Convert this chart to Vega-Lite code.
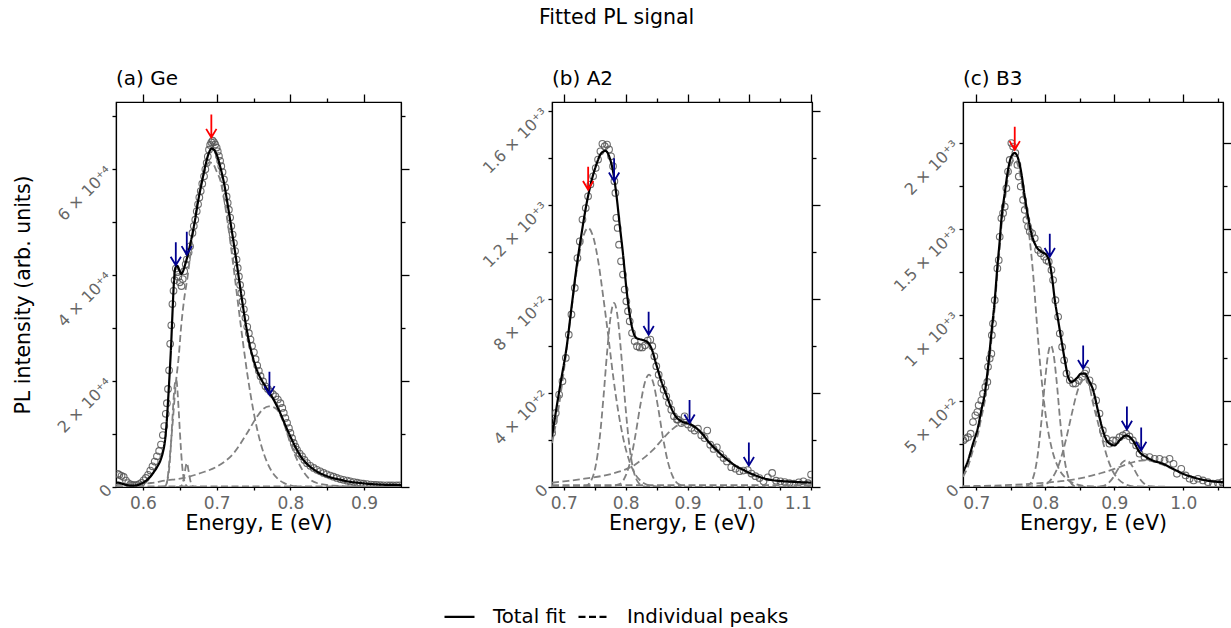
{
"$schema": "https://vega.github.io/schema/vega-lite/v6.json",
"padding": {"left": 12, "top": 8, "right": 2, "bottom": 2},
"title": {"text": "Fitted PL signal", "fontSize": 20.5, "fontWeight": "normal", "anchor": "middle", "frame": "bounds", "offset": 40, "dx": -6},
"bounds": "flush",
"spacing": 151,
"datasets": {
"a_pts": [
{"E":0.566,"I":2500},{"E":0.568,"I":2300},{"E":0.571,"I":2100},{"E":0.574,"I":1900},{"E":0.577,"I":1200},{"E":0.58,"I":750},{"E":0.583,"I":500},{"E":0.586,"I":380},{"E":0.589,"I":330},{"E":0.592,"I":380},{"E":0.595,"I":560},{"E":0.598,"I":800},{"E":0.601,"I":1250},{"E":0.604,"I":1700},{"E":0.607,"I":2300},{"E":0.61,"I":3100},{"E":0.613,"I":3900},{"E":0.616,"I":4800},{"E":0.619,"I":5800},{"E":0.622,"I":6800},{"E":0.6245,"I":8000},{"E":0.627,"I":9800},{"E":0.629,"I":11500},{"E":0.631,"I":13800},{"E":0.6325,"I":15800},{"E":0.634,"I":18500},{"E":0.6355,"I":22000},{"E":0.637,"I":27000},{"E":0.6385,"I":30500},{"E":0.64,"I":34500},{"E":0.6415,"I":37000},{"E":0.643,"I":39000},{"E":0.6446,"I":41200},{"E":0.6465,"I":40500},{"E":0.648,"I":39600},{"E":0.65,"I":38600},{"E":0.6523,"I":37900},{"E":0.654,"I":39200},{"E":0.656,"I":40700},{"E":0.658,"I":42000},{"E":0.6595,"I":42900},{"E":0.662,"I":44200},{"E":0.664,"I":45400},{"E":0.6672,"I":47900},{"E":0.669,"I":49200},{"E":0.671,"I":50400},{"E":0.673,"I":52000},{"E":0.6748,"I":53300},{"E":0.6765,"I":54600},{"E":0.6784,"I":55800},{"E":0.6805,"I":57200},{"E":0.6829,"I":58600},{"E":0.6847,"I":59900},{"E":0.6865,"I":61100},{"E":0.688,"I":62300},{"E":0.6896,"I":63600},{"E":0.6912,"I":64500},{"E":0.6928,"I":65000},{"E":0.6946,"I":65300},{"E":0.6964,"I":65000},{"E":0.698,"I":64600},{"E":0.7,"I":64000},{"E":0.7015,"I":63300},{"E":0.7031,"I":62400},{"E":0.7047,"I":61500},{"E":0.7063,"I":60500},{"E":0.708,"I":59400},{"E":0.7099,"I":58000},{"E":0.7117,"I":56500},{"E":0.7135,"I":54800},{"E":0.715,"I":53600},{"E":0.7166,"I":52300},{"E":0.7183,"I":50800},{"E":0.7199,"I":49200},{"E":0.7217,"I":47600},{"E":0.7234,"I":46000},{"E":0.725,"I":44500},{"E":0.727,"I":42900},{"E":0.7286,"I":41300},{"E":0.7302,"I":39700},{"E":0.7318,"I":38100},{"E":0.7334,"I":36600},{"E":0.735,"I":35000},{"E":0.7369,"I":33500},{"E":0.739,"I":31900},{"E":0.7415,"I":30200},{"E":0.7437,"I":29000},{"E":0.7459,"I":27800},{"E":0.748,"I":26600},{"E":0.7505,"I":25400},{"E":0.7528,"I":24100},{"E":0.755,"I":22900},{"E":0.7572,"I":21900},{"E":0.7595,"I":20900},{"E":0.763,"I":19900},{"E":0.7662,"I":19000},{"E":0.7695,"I":18500},{"E":0.773,"I":18000},{"E":0.7763,"I":17500},{"E":0.7797,"I":17100},{"E":0.783,"I":16500},{"E":0.7865,"I":15800},{"E":0.789,"I":14900},{"E":0.791,"I":14000},{"E":0.7932,"I":13000},{"E":0.7955,"I":12100},{"E":0.798,"I":11100},{"E":0.8,"I":10200},{"E":0.8023,"I":9200},{"E":0.8045,"I":8300},{"E":0.8068,"I":7600},{"E":0.809,"I":7000},{"E":0.8125,"I":6300},{"E":0.8158,"I":5800},{"E":0.819,"I":5100},{"E":0.8226,"I":4500},{"E":0.827,"I":4000},{"E":0.8316,"I":3600},{"E":0.836,"I":3250},{"E":0.8405,"I":2950},{"E":0.845,"I":2650},{"E":0.8495,"I":2400},{"E":0.8541,"I":2150},{"E":0.8585,"I":1950},{"E":0.863,"I":1700},{"E":0.8676,"I":1500},{"E":0.872,"I":1350},{"E":0.877,"I":1200},{"E":0.8811,"I":1060},{"E":0.886,"I":930},{"E":0.8905,"I":820},{"E":0.895,"I":700},{"E":0.8991,"I":620},{"E":0.904,"I":540},{"E":0.909,"I":470},{"E":0.913,"I":420},{"E":0.917,"I":380},{"E":0.922,"I":350},{"E":0.926,"I":330},{"E":0.931,"I":310},{"E":0.935,"I":300},{"E":0.939,"I":300},{"E":0.944,"I":290},{"E":0.948,"I":290}
],
"a_tot": [
{"t":"Total fit","E":0.564,"I":850},{"t":"Total fit","E":0.568,"I":780},{"t":"Total fit","E":0.572,"I":620},{"t":"Total fit","E":0.576,"I":430},{"t":"Total fit","E":0.58,"I":310},{"t":"Total fit","E":0.585,"I":250},{"t":"Total fit","E":0.59,"I":290},{"t":"Total fit","E":0.595,"I":480},{"t":"Total fit","E":0.6,"I":800},{"t":"Total fit","E":0.605,"I":1250},{"t":"Total fit","E":0.61,"I":1950},{"t":"Total fit","E":0.615,"I":2850},{"t":"Total fit","E":0.62,"I":3950},{"t":"Total fit","E":0.624,"I":5100},{"t":"Total fit","E":0.627,"I":6500},{"t":"Total fit","E":0.63,"I":8800},{"t":"Total fit","E":0.632,"I":11800},{"t":"Total fit","E":0.634,"I":16000},{"t":"Total fit","E":0.636,"I":20800},{"t":"Total fit","E":0.638,"I":26000},{"t":"Total fit","E":0.64,"I":32500},{"t":"Total fit","E":0.642,"I":38500},{"t":"Total fit","E":0.644,"I":41300},{"t":"Total fit","E":0.6465,"I":41700},{"t":"Total fit","E":0.649,"I":41000},{"t":"Total fit","E":0.652,"I":40200},{"t":"Total fit","E":0.655,"I":40900},{"t":"Total fit","E":0.658,"I":42300},{"t":"Total fit","E":0.6604,"I":43500},{"t":"Total fit","E":0.665,"I":46300},{"t":"Total fit","E":0.67,"I":49800},{"t":"Total fit","E":0.675,"I":54000},{"t":"Total fit","E":0.68,"I":57500},{"t":"Total fit","E":0.685,"I":60800},{"t":"Total fit","E":0.69,"I":63200},{"t":"Total fit","E":0.693,"I":63800},{"t":"Total fit","E":0.697,"I":63500},{"t":"Total fit","E":0.701,"I":62300},{"t":"Total fit","E":0.705,"I":60300},{"t":"Total fit","E":0.71,"I":57300},{"t":"Total fit","E":0.715,"I":53200},{"t":"Total fit","E":0.72,"I":48800},{"t":"Total fit","E":0.725,"I":44300},{"t":"Total fit","E":0.73,"I":39500},{"t":"Total fit","E":0.735,"I":34700},{"t":"Total fit","E":0.74,"I":30300},{"t":"Total fit","E":0.745,"I":26700},{"t":"Total fit","E":0.75,"I":24000},{"t":"Total fit","E":0.755,"I":21900},{"t":"Total fit","E":0.76,"I":20400},{"t":"Total fit","E":0.766,"I":19000},{"t":"Total fit","E":0.772,"I":17700},{"t":"Total fit","E":0.779,"I":16000},{"t":"Total fit","E":0.786,"I":14000},{"t":"Total fit","E":0.793,"I":11700},{"t":"Total fit","E":0.8,"I":9500},{"t":"Total fit","E":0.807,"I":7500},{"t":"Total fit","E":0.814,"I":5800},{"t":"Total fit","E":0.82,"I":4700},{"t":"Total fit","E":0.827,"I":3800},{"t":"Total fit","E":0.835,"I":3000},{"t":"Total fit","E":0.845,"I":2300},{"t":"Total fit","E":0.855,"I":1800},{"t":"Total fit","E":0.867,"I":1400},{"t":"Total fit","E":0.88,"I":1000},{"t":"Total fit","E":0.895,"I":750},{"t":"Total fit","E":0.91,"I":550},{"t":"Total fit","E":0.925,"I":430},{"t":"Total fit","E":0.95,"I":370}
],
"a_pk": [
{"s":"p1","t":"Individual peaks","E":0.62,"I":0},{"s":"p1","t":"Individual peaks","E":0.627,"I":50},{"s":"p1","t":"Individual peaks","E":0.63,"I":200},{"s":"p1","t":"Individual peaks","E":0.632,"I":650},{"s":"p1","t":"Individual peaks","E":0.634,"I":1760},{"s":"p1","t":"Individual peaks","E":0.636,"I":4000},{"s":"p1","t":"Individual peaks","E":0.638,"I":7900},{"s":"p1","t":"Individual peaks","E":0.64,"I":12800},{"s":"p1","t":"Individual peaks","E":0.642,"I":17480},{"s":"p1","t":"Individual peaks","E":0.6435,"I":19700},{"s":"p1","t":"Individual peaks","E":0.6446,"I":20250},{"s":"p1","t":"Individual peaks","E":0.6458,"I":19900},{"s":"p1","t":"Individual peaks","E":0.647,"I":17870},{"s":"p1","t":"Individual peaks","E":0.6485,"I":14500},{"s":"p1","t":"Individual peaks","E":0.65,"I":10750},{"s":"p1","t":"Individual peaks","E":0.6515,"I":7300},{"s":"p1","t":"Individual peaks","E":0.653,"I":4380},{"s":"p1","t":"Individual peaks","E":0.6545,"I":2400},{"s":"p1","t":"Individual peaks","E":0.656,"I":1210},{"s":"p1","t":"Individual peaks","E":0.658,"I":500},{"s":"p1","t":"Individual peaks","E":0.66,"I":120},{"s":"p1","t":"Individual peaks","E":0.664,"I":10},{"s":"p1","t":"Individual peaks","E":0.68,"I":0},
{"s":"p2","t":"Individual peaks","E":0.645,"I":0},{"s":"p2","t":"Individual peaks","E":0.65,"I":30},{"s":"p2","t":"Individual peaks","E":0.653,"I":400},{"s":"p2","t":"Individual peaks","E":0.655,"I":1400},{"s":"p2","t":"Individual peaks","E":0.657,"I":3000},{"s":"p2","t":"Individual peaks","E":0.6595,"I":4530},{"s":"p2","t":"Individual peaks","E":0.662,"I":3000},{"s":"p2","t":"Individual peaks","E":0.664,"I":1400},{"s":"p2","t":"Individual peaks","E":0.666,"I":450},{"s":"p2","t":"Individual peaks","E":0.669,"I":30},{"s":"p2","t":"Individual peaks","E":0.675,"I":0},
{"s":"p3","t":"Individual peaks","E":0.628,"I":0},{"s":"p3","t":"Individual peaks","E":0.631,"I":300},{"s":"p3","t":"Individual peaks","E":0.633,"I":1200},{"s":"p3","t":"Individual peaks","E":0.636,"I":5000},{"s":"p3","t":"Individual peaks","E":0.64,"I":11500},{"s":"p3","t":"Individual peaks","E":0.6446,"I":19500},{"s":"p3","t":"Individual peaks","E":0.6485,"I":24500},{"s":"p3","t":"Individual peaks","E":0.652,"I":30500},{"s":"p3","t":"Individual peaks","E":0.656,"I":35500},{"s":"p3","t":"Individual peaks","E":0.6604,"I":39500},{"s":"p3","t":"Individual peaks","E":0.665,"I":44500},{"s":"p3","t":"Individual peaks","E":0.67,"I":50000},{"s":"p3","t":"Individual peaks","E":0.675,"I":54500},{"s":"p3","t":"Individual peaks","E":0.68,"I":57800},{"s":"p3","t":"Individual peaks","E":0.685,"I":60000},{"s":"p3","t":"Individual peaks","E":0.69,"I":61200},{"s":"p3","t":"Individual peaks","E":0.694,"I":61100},{"s":"p3","t":"Individual peaks","E":0.7,"I":59500},{"s":"p3","t":"Individual peaks","E":0.705,"I":57800},{"s":"p3","t":"Individual peaks","E":0.71,"I":54300},{"s":"p3","t":"Individual peaks","E":0.715,"I":49800},{"s":"p3","t":"Individual peaks","E":0.72,"I":44650},{"s":"p3","t":"Individual peaks","E":0.725,"I":39100},{"s":"p3","t":"Individual peaks","E":0.7324,"I":30800},{"s":"p3","t":"Individual peaks","E":0.737,"I":25900},{"s":"p3","t":"Individual peaks","E":0.7415,"I":21400},{"s":"p3","t":"Individual peaks","E":0.746,"I":17400},{"s":"p3","t":"Individual peaks","E":0.7504,"I":13940},{"s":"p3","t":"Individual peaks","E":0.755,"I":10850},{"s":"p3","t":"Individual peaks","E":0.76,"I":8070},{"s":"p3","t":"Individual peaks","E":0.7685,"I":4640},{"s":"p3","t":"Individual peaks","E":0.775,"I":2890},{"s":"p3","t":"Individual peaks","E":0.782,"I":1670},{"s":"p3","t":"Individual peaks","E":0.791,"I":770},{"s":"p3","t":"Individual peaks","E":0.8,"I":330},{"s":"p3","t":"Individual peaks","E":0.812,"I":80},{"s":"p3","t":"Individual peaks","E":0.83,"I":0},
{"s":"p4","t":"Individual peaks","E":0.5635,"I":420},{"s":"p4","t":"Individual peaks","E":0.59,"I":600},{"s":"p4","t":"Individual peaks","E":0.6108,"I":755},{"s":"p4","t":"Individual peaks","E":0.63,"I":1200},{"s":"p4","t":"Individual peaks","E":0.6558,"I":1700},{"s":"p4","t":"Individual peaks","E":0.6784,"I":2640},{"s":"p4","t":"Individual peaks","E":0.7009,"I":3890},{"s":"p4","t":"Individual peaks","E":0.7234,"I":6420},{"s":"p4","t":"Individual peaks","E":0.7414,"I":10190},{"s":"p4","t":"Individual peaks","E":0.755,"I":13320},{"s":"p4","t":"Individual peaks","E":0.763,"I":14700},{"s":"p4","t":"Individual peaks","E":0.7707,"I":15210},{"s":"p4","t":"Individual peaks","E":0.777,"I":15050},{"s":"p4","t":"Individual peaks","E":0.782,"I":14590},{"s":"p4","t":"Individual peaks","E":0.7909,"I":12080},{"s":"p4","t":"Individual peaks","E":0.8,"I":8300},{"s":"p4","t":"Individual peaks","E":0.809,"I":5150},{"s":"p4","t":"Individual peaks","E":0.8225,"I":2000},{"s":"p4","t":"Individual peaks","E":0.836,"I":755},{"s":"p4","t":"Individual peaks","E":0.8585,"I":250},{"s":"p4","t":"Individual peaks","E":0.9,"I":60},{"s":"p4","t":"Individual peaks","E":0.95,"I":20},
{"s":"bg","t":"Individual peaks","E":0.5635,"I":120},{"s":"bg","t":"Individual peaks","E":0.95,"I":120}
],
"a_arr": [
{"E":0.6928,"I":65900,"k":"main"},{"E":0.6446,"I":41800,"k":"sat"},{"E":0.6595,"I":43800,"k":"sat"},{"E":0.7716,"I":17400,"k":"sat"}
],
"b_pts": [
{"E":0.6812,"I":230},{"E":0.6839,"I":280},{"E":0.6871,"I":315},{"E":0.6925,"I":393},{"E":0.6979,"I":450},{"E":0.7033,"I":549},{"E":0.7081,"I":648},{"E":0.7124,"I":734},{"E":0.7178,"I":847},{"E":0.7221,"I":974},{"E":0.7259,"I":1045},{"E":0.7302,"I":1138},{"E":0.7355,"I":1187},{"E":0.7393,"I":1237},{"E":0.743,"I":1287},{"E":0.7474,"I":1322},{"E":0.7516,"I":1357},{"E":0.7554,"I":1393},{"E":0.7592,"I":1428},{"E":0.7624,"I":1460},{"E":0.7662,"I":1450},{"E":0.7699,"I":1457},{"E":0.7732,"I":1436},{"E":0.7764,"I":1407},{"E":0.7796,"I":1365},{"E":0.7818,"I":1301},{"E":0.7834,"I":1251},{"E":0.785,"I":1145},{"E":0.7871,"I":1102},{"E":0.7893,"I":1031},{"E":0.7925,"I":960},{"E":0.7957,"I":904},{"E":0.7984,"I":840},{"E":0.8011,"I":790},{"E":0.8038,"I":748},{"E":0.8065,"I":705},{"E":0.8103,"I":655},{"E":0.8145,"I":620},{"E":0.8183,"I":599},{"E":0.8226,"I":594},{"E":0.8269,"I":594},{"E":0.8312,"I":603},{"E":0.8355,"I":623},{"E":0.8398,"I":627},{"E":0.843,"I":599},{"E":0.8463,"I":556},{"E":0.8495,"I":514},{"E":0.8533,"I":478},{"E":0.8576,"I":443},{"E":0.8613,"I":414},{"E":0.8656,"I":386},{"E":0.8699,"I":357},{"E":0.8737,"I":329},{"E":0.878,"I":301},{"E":0.8828,"I":287},{"E":0.8845,"I":287},{"E":0.8899,"I":272},{"E":0.8952,"I":301},{"E":0.9006,"I":266},{"E":0.906,"I":251},{"E":0.9113,"I":240},{"E":0.9167,"I":248},{"E":0.9221,"I":220},{"E":0.9275,"I":208},{"E":0.9318,"I":240},{"E":0.9366,"I":180},{"E":0.942,"I":162},{"E":0.9473,"I":169},{"E":0.9527,"I":140},{"E":0.9581,"I":123},{"E":0.9635,"I":109},{"E":0.9705,"I":84},{"E":0.9775,"I":78},{"E":0.9839,"I":67},{"E":0.9903,"I":70},{"E":0.9973,"I":72},{"E":1.0032,"I":57},{"E":1.0097,"I":46},{"E":1.0161,"I":38},{"E":1.0226,"I":24},{"E":1.0296,"I":41},{"E":1.0366,"I":60},{"E":1.043,"I":27},{"E":1.05,"I":24},{"E":1.057,"I":21},{"E":1.0645,"I":16},{"E":1.072,"I":14},{"E":1.0796,"I":20},{"E":1.0871,"I":24},{"E":1.0946,"I":16},{"E":1.0995,"I":53}
],
"b_tot": [
{"t":"Total fit","E":0.681,"I":215},{"t":"Total fit","E":0.6882,"I":336},{"t":"Total fit","E":0.6963,"I":464},{"t":"Total fit","E":0.7044,"I":591},{"t":"Total fit","E":0.7124,"I":762},{"t":"Total fit","E":0.7205,"I":932},{"t":"Total fit","E":0.7285,"I":1074},{"t":"Total fit","E":0.7366,"I":1202},{"t":"Total fit","E":0.7447,"I":1301},{"t":"Total fit","E":0.7527,"I":1372},{"t":"Total fit","E":0.7608,"I":1421},{"t":"Total fit","E":0.7677,"I":1430},{"t":"Total fit","E":0.7742,"I":1400},{"t":"Total fit","E":0.7796,"I":1343},{"t":"Total fit","E":0.785,"I":1244},{"t":"Total fit","E":0.7903,"I":1117},{"t":"Total fit","E":0.7958,"I":989},{"t":"Total fit","E":0.8011,"I":847},{"t":"Total fit","E":0.8065,"I":734},{"t":"Total fit","E":0.8119,"I":663},{"t":"Total fit","E":0.8173,"I":634},{"t":"Total fit","E":0.8253,"I":627},{"t":"Total fit","E":0.8334,"I":620},{"t":"Total fit","E":0.8415,"I":591},{"t":"Total fit","E":0.8495,"I":521},{"t":"Total fit","E":0.8576,"I":450},{"t":"Total fit","E":0.8656,"I":393},{"t":"Total fit","E":0.8737,"I":336},{"t":"Total fit","E":0.8818,"I":297},{"t":"Total fit","E":0.8898,"I":280},{"t":"Total fit","E":0.9032,"I":268},{"t":"Total fit","E":0.914,"I":251},{"t":"Total fit","E":0.9248,"I":223},{"t":"Total fit","E":0.9355,"I":187},{"t":"Total fit","E":0.9463,"I":159},{"t":"Total fit","E":0.9571,"I":131},{"t":"Total fit","E":0.9677,"I":109},{"t":"Total fit","E":0.9785,"I":88},{"t":"Total fit","E":0.9894,"I":74},{"t":"Total fit","E":1.0,"I":60},{"t":"Total fit","E":1.0108,"I":48},{"t":"Total fit","E":1.0216,"I":38},{"t":"Total fit","E":1.0323,"I":31},{"t":"Total fit","E":1.0431,"I":27},{"t":"Total fit","E":1.0645,"I":23},{"t":"Total fit","E":1.0861,"I":20},{"t":"Total fit","E":1.1,"I":19}
],
"b_pk": [
{"s":"A","t":"Individual peaks","E":0.681,"I":187},{"s":"A","t":"Individual peaks","E":0.69,"I":309},{"s":"A","t":"Individual peaks","E":0.7,"I":491},{"s":"A","t":"Individual peaks","E":0.71,"I":703},{"s":"A","t":"Individual peaks","E":0.72,"I":906},{"s":"A","t":"Individual peaks","E":0.73,"I":1052},{"s":"A","t":"Individual peaks","E":0.7394,"I":1102},{"s":"A","t":"Individual peaks","E":0.748,"I":1060},{"s":"A","t":"Individual peaks","E":0.756,"I":955},{"s":"A","t":"Individual peaks","E":0.764,"I":804},{"s":"A","t":"Individual peaks","E":0.772,"I":640},{"s":"A","t":"Individual peaks","E":0.78,"I":467},{"s":"A","t":"Individual peaks","E":0.788,"I":322},{"s":"A","t":"Individual peaks","E":0.796,"I":208},{"s":"A","t":"Individual peaks","E":0.806,"I":110},{"s":"A","t":"Individual peaks","E":0.816,"I":52},{"s":"A","t":"Individual peaks","E":0.826,"I":22},{"s":"A","t":"Individual peaks","E":0.84,"I":6},{"s":"A","t":"Individual peaks","E":0.86,"I":1},{"s":"A","t":"Individual peaks","E":1.1,"I":0},
{"s":"B","t":"Individual peaks","E":0.681,"I":0},{"s":"B","t":"Individual peaks","E":0.735,"I":4},{"s":"B","t":"Individual peaks","E":0.745,"I":31},{"s":"B","t":"Individual peaks","E":0.752,"I":96},{"s":"B","t":"Individual peaks","E":0.758,"I":207},{"s":"B","t":"Individual peaks","E":0.764,"I":377},{"s":"B","t":"Individual peaks","E":0.77,"I":573},{"s":"B","t":"Individual peaks","E":0.776,"I":731},{"s":"B","t":"Individual peaks","E":0.7813,"I":783},{"s":"B","t":"Individual peaks","E":0.787,"I":723},{"s":"B","t":"Individual peaks","E":0.793,"I":560},{"s":"B","t":"Individual peaks","E":0.799,"I":364},{"s":"B","t":"Individual peaks","E":0.805,"I":198},{"s":"B","t":"Individual peaks","E":0.811,"I":90},{"s":"B","t":"Individual peaks","E":0.818,"I":29},{"s":"B","t":"Individual peaks","E":0.828,"I":4},{"s":"B","t":"Individual peaks","E":0.84,"I":0},{"s":"B","t":"Individual peaks","E":1.1,"I":0},
{"s":"C","t":"Individual peaks","E":0.681,"I":0},{"s":"C","t":"Individual peaks","E":0.77,"I":1},{"s":"C","t":"Individual peaks","E":0.79,"I":12},{"s":"C","t":"Individual peaks","E":0.8,"I":48},{"s":"C","t":"Individual peaks","E":0.808,"I":115},{"s":"C","t":"Individual peaks","E":0.816,"I":224},{"s":"C","t":"Individual peaks","E":0.824,"I":353},{"s":"C","t":"Individual peaks","E":0.831,"I":445},{"s":"C","t":"Individual peaks","E":0.8377,"I":478},{"s":"C","t":"Individual peaks","E":0.845,"I":439},{"s":"C","t":"Individual peaks","E":0.852,"I":344},{"s":"C","t":"Individual peaks","E":0.86,"I":214},{"s":"C","t":"Individual peaks","E":0.868,"I":109},{"s":"C","t":"Individual peaks","E":0.876,"I":45},{"s":"C","t":"Individual peaks","E":0.886,"I":11},{"s":"C","t":"Individual peaks","E":0.9,"I":1},{"s":"C","t":"Individual peaks","E":1.1,"I":0},
{"s":"D","t":"Individual peaks","E":0.681,"I":18},{"s":"D","t":"Individual peaks","E":0.7,"I":24},{"s":"D","t":"Individual peaks","E":0.72,"I":30},{"s":"D","t":"Individual peaks","E":0.74,"I":38},{"s":"D","t":"Individual peaks","E":0.76,"I":46},{"s":"D","t":"Individual peaks","E":0.78,"I":58},{"s":"D","t":"Individual peaks","E":0.8,"I":75},{"s":"D","t":"Individual peaks","E":0.815,"I":95},{"s":"D","t":"Individual peaks","E":0.83,"I":125},{"s":"D","t":"Individual peaks","E":0.845,"I":160},{"s":"D","t":"Individual peaks","E":0.86,"I":205},{"s":"D","t":"Individual peaks","E":0.875,"I":245},{"s":"D","t":"Individual peaks","E":0.887,"I":265},{"s":"D","t":"Individual peaks","E":0.9,"I":268},{"s":"D","t":"Individual peaks","E":0.91,"I":260},{"s":"D","t":"Individual peaks","E":0.92,"I":235},{"s":"D","t":"Individual peaks","E":0.935,"I":190},{"s":"D","t":"Individual peaks","E":0.95,"I":150},{"s":"D","t":"Individual peaks","E":0.97,"I":105},{"s":"D","t":"Individual peaks","E":0.99,"I":70},{"s":"D","t":"Individual peaks","E":1.01,"I":47},{"s":"D","t":"Individual peaks","E":1.03,"I":33},{"s":"D","t":"Individual peaks","E":1.05,"I":25},{"s":"D","t":"Individual peaks","E":1.07,"I":20},{"s":"D","t":"Individual peaks","E":1.1,"I":16},
{"s":"bg","t":"Individual peaks","E":0.681,"I":8},{"s":"bg","t":"Individual peaks","E":1.1,"I":8}
],
"b_arr": [
{"E":0.7394,"I":1265,"k":"main"},{"E":0.7813,"I":1301,"k":"sat"},{"E":0.8371,"I":648,"k":"sat"},{"E":0.9032,"I":272,"k":"sat"},{"E":0.999,"I":91,"k":"sat"}
],
"c_pts": [
{"E":0.6812,"I":271},{"E":0.6841,"I":281},{"E":0.688,"I":290},{"E":0.6918,"I":310},{"E":0.6952,"I":378},{"E":0.6986,"I":417},{"E":0.7015,"I":436},{"E":0.7034,"I":475},{"E":0.7073,"I":504},{"E":0.7097,"I":543},{"E":0.7131,"I":582},{"E":0.716,"I":611},{"E":0.717,"I":699},{"E":0.7194,"I":747},{"E":0.7218,"I":776},{"E":0.7225,"I":883},{"E":0.7242,"I":951},{"E":0.7267,"I":1087},{"E":0.7305,"I":1272},{"E":0.7325,"I":1320},{"E":0.7339,"I":1456},{"E":0.7363,"I":1563},{"E":0.7388,"I":1593},{"E":0.7412,"I":1631},{"E":0.7436,"I":1738},{"E":0.746,"I":1835},{"E":0.7484,"I":1903},{"E":0.7508,"I":2001},{"E":0.7533,"I":1981},{"E":0.7566,"I":1943},{"E":0.7596,"I":1874},{"E":0.7615,"I":1806},{"E":0.7644,"I":1748},{"E":0.7678,"I":1670},{"E":0.7702,"I":1612},{"E":0.7726,"I":1554},{"E":0.775,"I":1515},{"E":0.7775,"I":1486},{"E":0.7809,"I":1476},{"E":0.7847,"I":1447},{"E":0.7896,"I":1379},{"E":0.7934,"I":1360},{"E":0.7983,"I":1340},{"E":0.8016,"I":1320},{"E":0.805,"I":1311},{"E":0.8089,"I":1262},{"E":0.8113,"I":1204},{"E":0.8147,"I":1087},{"E":0.8186,"I":990},{"E":0.821,"I":893},{"E":0.8244,"I":815},{"E":0.8273,"I":737},{"E":0.8307,"I":660},{"E":0.8355,"I":621},{"E":0.8403,"I":602},{"E":0.8437,"I":602},{"E":0.8486,"I":621},{"E":0.8534,"I":640},{"E":0.8573,"I":660},{"E":0.8592,"I":679},{"E":0.8641,"I":621},{"E":0.8689,"I":582},{"E":0.8737,"I":504},{"E":0.8786,"I":427},{"E":0.8834,"I":329},{"E":0.8882,"I":281},{"E":0.893,"I":252},{"E":0.8979,"I":271},{"E":0.9027,"I":271},{"E":0.9076,"I":290},{"E":0.9124,"I":300},{"E":0.9172,"I":310},{"E":0.922,"I":294},{"E":0.9269,"I":271},{"E":0.9317,"I":242},{"E":0.9366,"I":194},{"E":0.9438,"I":174},{"E":0.9511,"I":174},{"E":0.9584,"I":164},{"E":0.9656,"I":164},{"E":0.9729,"I":155},{"E":0.9801,"I":164},{"E":0.9859,"I":135},{"E":0.9908,"I":77},{"E":0.9971,"I":106},{"E":1.0034,"I":67},{"E":1.0092,"I":48},{"E":1.015,"I":38},{"E":1.0213,"I":48},{"E":1.0285,"I":38},{"E":1.0358,"I":28},{"E":1.0431,"I":19},{"E":1.0503,"I":22},{"E":1.0566,"I":28}
],
"c_tot": [
{"t":"Total fit","E":0.6807,"I":86},{"t":"Total fit","E":0.688,"I":154},{"t":"Total fit","E":0.6952,"I":252},{"t":"Total fit","E":0.7025,"I":349},{"t":"Total fit","E":0.7073,"I":446},{"t":"Total fit","E":0.7122,"I":543},{"t":"Total fit","E":0.717,"I":698},{"t":"Total fit","E":0.7218,"I":893},{"t":"Total fit","E":0.7267,"I":1087},{"t":"Total fit","E":0.7305,"I":1281},{"t":"Total fit","E":0.734,"I":1437},{"t":"Total fit","E":0.7363,"I":1554},{"t":"Total fit","E":0.7412,"I":1709},{"t":"Total fit","E":0.746,"I":1845},{"t":"Total fit","E":0.7508,"I":1923},{"t":"Total fit","E":0.7557,"I":1943},{"t":"Total fit","E":0.7605,"I":1913},{"t":"Total fit","E":0.7653,"I":1826},{"t":"Total fit","E":0.7702,"I":1690},{"t":"Total fit","E":0.775,"I":1573},{"t":"Total fit","E":0.7798,"I":1476},{"t":"Total fit","E":0.7871,"I":1398},{"t":"Total fit","E":0.7943,"I":1369},{"t":"Total fit","E":0.8016,"I":1350},{"t":"Total fit","E":0.8065,"I":1301},{"t":"Total fit","E":0.8103,"I":1204},{"t":"Total fit","E":0.8138,"I":1087},{"t":"Total fit","E":0.8186,"I":971},{"t":"Total fit","E":0.8234,"I":854},{"t":"Total fit","E":0.8283,"I":738},{"t":"Total fit","E":0.8331,"I":640},{"t":"Total fit","E":0.8379,"I":611},{"t":"Total fit","E":0.8451,"I":631},{"t":"Total fit","E":0.8524,"I":660},{"t":"Total fit","E":0.8573,"I":660},{"t":"Total fit","E":0.8631,"I":621},{"t":"Total fit","E":0.8694,"I":563},{"t":"Total fit","E":0.8762,"I":446},{"t":"Total fit","E":0.8835,"I":329},{"t":"Total fit","E":0.8907,"I":261},{"t":"Total fit","E":0.9003,"I":242},{"t":"Total fit","E":0.9075,"I":271},{"t":"Total fit","E":0.9173,"I":300},{"t":"Total fit","E":0.927,"I":271},{"t":"Total fit","E":0.9366,"I":203},{"t":"Total fit","E":0.9463,"I":174},{"t":"Total fit","E":0.956,"I":154},{"t":"Total fit","E":0.9705,"I":135},{"t":"Total fit","E":0.985,"I":106},{"t":"Total fit","E":0.9996,"I":77},{"t":"Total fit","E":1.0141,"I":57},{"t":"Total fit","E":1.0334,"I":38},{"t":"Total fit","E":1.0576,"I":28}
],
"c_pk": [
{"s":"m","t":"Individual peaks","E":0.6807,"I":60},{"s":"m","t":"Individual peaks","E":0.688,"I":120},{"s":"m","t":"Individual peaks","E":0.6952,"I":215},{"s":"m","t":"Individual peaks","E":0.7025,"I":310},{"s":"m","t":"Individual peaks","E":0.7073,"I":405},{"s":"m","t":"Individual peaks","E":0.7122,"I":500},{"s":"m","t":"Individual peaks","E":0.717,"I":655},{"s":"m","t":"Individual peaks","E":0.7218,"I":850},{"s":"m","t":"Individual peaks","E":0.7267,"I":1045},{"s":"m","t":"Individual peaks","E":0.7305,"I":1240},{"s":"m","t":"Individual peaks","E":0.734,"I":1395},{"s":"m","t":"Individual peaks","E":0.7363,"I":1510},{"s":"m","t":"Individual peaks","E":0.7412,"I":1665},{"s":"m","t":"Individual peaks","E":0.746,"I":1800},{"s":"m","t":"Individual peaks","E":0.7508,"I":1880},{"s":"m","t":"Individual peaks","E":0.7557,"I":1905},{"s":"m","t":"Individual peaks","E":0.7605,"I":1870},{"s":"m","t":"Individual peaks","E":0.7653,"I":1780},{"s":"m","t":"Individual peaks","E":0.7702,"I":1640},{"s":"m","t":"Individual peaks","E":0.7775,"I":1437},{"s":"m","t":"Individual peaks","E":0.7823,"I":1243},{"s":"m","t":"Individual peaks","E":0.7871,"I":990},{"s":"m","t":"Individual peaks","E":0.792,"I":738},{"s":"m","t":"Individual peaks","E":0.7968,"I":543},{"s":"m","t":"Individual peaks","E":0.8016,"I":388},{"s":"m","t":"Individual peaks","E":0.8089,"I":232},{"s":"m","t":"Individual peaks","E":0.8186,"I":115},{"s":"m","t":"Individual peaks","E":0.8283,"I":57},{"s":"m","t":"Individual peaks","E":0.8428,"I":19},{"s":"m","t":"Individual peaks","E":0.86,"I":5},{"s":"m","t":"Individual peaks","E":0.9,"I":1},{"s":"m","t":"Individual peaks","E":1.058,"I":0},
{"s":"q2","t":"Individual peaks","E":0.6807,"I":0},{"s":"q2","t":"Individual peaks","E":0.77,"I":2},{"s":"q2","t":"Individual peaks","E":0.775,"I":9},{"s":"q2","t":"Individual peaks","E":0.782,"I":50},{"s":"q2","t":"Individual peaks","E":0.788,"I":158},{"s":"q2","t":"Individual peaks","E":0.794,"I":367},{"s":"q2","t":"Individual peaks","E":0.8,"I":633},{"s":"q2","t":"Individual peaks","E":0.804,"I":772},{"s":"q2","t":"Individual peaks","E":0.808,"I":825},{"s":"q2","t":"Individual peaks","E":0.812,"I":772},{"s":"q2","t":"Individual peaks","E":0.816,"I":633},{"s":"q2","t":"Individual peaks","E":0.822,"I":367},{"s":"q2","t":"Individual peaks","E":0.828,"I":158},{"s":"q2","t":"Individual peaks","E":0.834,"I":50},{"s":"q2","t":"Individual peaks","E":0.841,"I":9},{"s":"q2","t":"Individual peaks","E":0.85,"I":1},{"s":"q2","t":"Individual peaks","E":1.058,"I":0},
{"s":"q3","t":"Individual peaks","E":0.6807,"I":0},{"s":"q3","t":"Individual peaks","E":0.78,"I":3},{"s":"q3","t":"Individual peaks","E":0.8,"I":16},{"s":"q3","t":"Individual peaks","E":0.81,"I":52},{"s":"q3","t":"Individual peaks","E":0.82,"I":134},{"s":"q3","t":"Individual peaks","E":0.83,"I":276},{"s":"q3","t":"Individual peaks","E":0.838,"I":418},{"s":"q3","t":"Individual peaks","E":0.845,"I":535},{"s":"q3","t":"Individual peaks","E":0.851,"I":605},{"s":"q3","t":"Individual peaks","E":0.857,"I":630},{"s":"q3","t":"Individual peaks","E":0.863,"I":600},{"s":"q3","t":"Individual peaks","E":0.869,"I":490},{"s":"q3","t":"Individual peaks","E":0.876,"I":380},{"s":"q3","t":"Individual peaks","E":0.883,"I":270},{"s":"q3","t":"Individual peaks","E":0.89,"I":170},{"s":"q3","t":"Individual peaks","E":0.898,"I":90},{"s":"q3","t":"Individual peaks","E":0.906,"I":45},{"s":"q3","t":"Individual peaks","E":0.915,"I":18},{"s":"q3","t":"Individual peaks","E":0.93,"I":3},{"s":"q3","t":"Individual peaks","E":1.058,"I":0},
{"s":"q4","t":"Individual peaks","E":0.6807,"I":0},{"s":"q4","t":"Individual peaks","E":0.87,"I":1},{"s":"q4","t":"Individual peaks","E":0.88,"I":3},{"s":"q4","t":"Individual peaks","E":0.89,"I":18},{"s":"q4","t":"Individual peaks","E":0.898,"I":53},{"s":"q4","t":"Individual peaks","E":0.905,"I":101},{"s":"q4","t":"Individual peaks","E":0.911,"I":140},{"s":"q4","t":"Individual peaks","E":0.917,"I":155},{"s":"q4","t":"Individual peaks","E":0.923,"I":140},{"s":"q4","t":"Individual peaks","E":0.929,"I":101},{"s":"q4","t":"Individual peaks","E":0.936,"I":53},{"s":"q4","t":"Individual peaks","E":0.944,"I":18},{"s":"q4","t":"Individual peaks","E":0.954,"I":3},{"s":"q4","t":"Individual peaks","E":0.97,"I":0},{"s":"q4","t":"Individual peaks","E":1.058,"I":0},
{"s":"q5","t":"Individual peaks","E":0.6807,"I":5},{"s":"q5","t":"Individual peaks","E":0.75,"I":12},{"s":"q5","t":"Individual peaks","E":0.8,"I":25},{"s":"q5","t":"Individual peaks","E":0.85,"I":50},{"s":"q5","t":"Individual peaks","E":0.88,"I":80},{"s":"q5","t":"Individual peaks","E":0.9,"I":105},{"s":"q5","t":"Individual peaks","E":0.92,"I":135},{"s":"q5","t":"Individual peaks","E":0.935,"I":152},{"s":"q5","t":"Individual peaks","E":0.944,"I":155},{"s":"q5","t":"Individual peaks","E":0.955,"I":150},{"s":"q5","t":"Individual peaks","E":0.97,"I":130},{"s":"q5","t":"Individual peaks","E":0.985,"I":103},{"s":"q5","t":"Individual peaks","E":1.0,"I":75},{"s":"q5","t":"Individual peaks","E":1.015,"I":55},{"s":"q5","t":"Individual peaks","E":1.03,"I":40},{"s":"q5","t":"Individual peaks","E":1.045,"I":30},{"s":"q5","t":"Individual peaks","E":1.058,"I":24}
],
"c_arr": [
{"E":0.7557,"I":1962,"k":"main"},{"E":0.8065,"I":1340,"k":"sat"},{"E":0.8549,"I":689,"k":"sat"},{"E":0.9183,"I":335,"k":"sat"},{"E":0.939,"I":213,"k":"sat"}
]
},
"hconcat": [
{
"width": 285, "height": 385,
"title": {"text": "(a) Ge", "anchor": "start", "frame": "group", "offset": 4, "fontSize": 20},
"layer": [
{"data": {"name": "a_pts"}, "mark": {"type": "point", "filled": false, "stroke": "#555555", "strokeWidth": 1.1, "size": 44, "opacity": 0.85, "clip": true},
 "encoding": {
  "x": {"field": "E", "type": "quantitative", "scale": {"domain": [0.5635, 0.95], "nice": false, "zero": false}, "axis": {"orient": "bottom", "values": [0.6,0.65,0.7,0.75,0.8,0.85,0.9], "labelExpr": "abs(datum.value*10 - round(datum.value*10)) < 0.001 ? format(datum.value, '.1f') : ''", "tickSize": 3, "labelPadding": 5, "title": "Energy, E (eV)", "titlePadding": 2}},
  "y": {"field": "I", "type": "quantitative", "scale": {"domain": [0, 72600], "nice": false}, "axis": {"orient": "left", "values": [0,10000,20000,30000,40000,50000,60000,70000], "labelExpr": "datum.value == 0 ? '0' : (datum.value % 20000 == 0 ? (datum.value / 10000) + ' × 10⁺⁴' : '')", "labelAngle": -45, "labelAlign": "right", "labelBaseline": "middle", "tickSize": 4, "labelPadding": 3, "labelFontSize": 16, "title": "PL intensity (arb. units)", "titlePadding": 21}}
 }},
{"data": {"name": "a_pk"}, "mark": {"type": "line", "color": "#808080", "strokeWidth": 1.8, "interpolate": "monotone", "clip": true},
 "encoding": {
  "x": {"field": "E", "type": "quantitative", "scale": {"domain": [0.5635, 0.95], "nice": false, "zero": false}, "axis": {"orient": "top", "values": [0.6,0.7,0.8,0.9], "tickSize": 8, "labels": false, "title": null}},
  "y": {"field": "I", "type": "quantitative", "scale": {"domain": [0, 72600], "nice": false}, "axis": {"orient": "right", "values": [0,20000,40000,60000], "tickSize": 8, "labels": false, "title": null}},
  "detail": {"field": "s"},
  "strokeDash": {"field": "t", "type": "nominal", "scale": {"domain": ["Total fit", "Individual peaks"], "range": [[1,0],[7,3.5]]}, "legend": {"orient": "none", "legendX": 327, "legendY": 498, "direction": "horizontal", "title": null, "symbolType": "stroke", "symbolSize": 900, "symbolStrokeColor": "black", "symbolStrokeWidth": 2.2, "labelFontSize": 19.8, "labelLimit": 400, "labelColor": "black", "labelOffset": 17, "columnPadding": 8}}
 }},
{"data": {"name": "a_tot"}, "mark": {"type": "line", "color": "black", "strokeWidth": 2.2, "interpolate": "monotone", "clip": true},
 "encoding": {
  "x": {"field": "E", "type": "quantitative", "scale": {"domain": [0.5635, 0.95], "nice": false, "zero": false}, "axis": {"orient": "top", "values": [0.65,0.75,0.85], "tickSize": 4, "labels": false, "title": null, "domain": false}},
  "y": {"field": "I", "type": "quantitative", "scale": {"domain": [0, 72600], "nice": false}, "axis": {"orient": "right", "values": [10000,30000,50000,70000], "tickSize": 4, "labels": false, "title": null, "domain": false}},
  "strokeDash": {"field": "t", "type": "nominal", "scale": {"domain": ["Total fit", "Individual peaks"], "range": [[1,0],[7,3.5]]}, "legend": {"orient": "none", "legendX": 327, "legendY": 498, "direction": "horizontal", "title": null, "symbolType": "stroke", "symbolSize": 900, "symbolStrokeColor": "black", "symbolStrokeWidth": 2.2, "labelFontSize": 19.8, "labelLimit": 400, "labelColor": "black", "labelOffset": 17, "columnPadding": 8}}
 }},
{"data": {"name": "a_arr"}, "mark": {"type": "point", "shape": "M0,-2L0,0M-0.45,-0.75L0,0L0.45,-0.75", "size": 529, "filled": false, "strokeWidth": 1.8, "opacity": 1},
 "encoding": {
  "x": {"field": "E", "type": "quantitative", "scale": {"domain": [0.5635, 0.95], "nice": false, "zero": false}, "axis": null},
  "y": {"field": "I", "type": "quantitative", "scale": {"domain": [0, 72600], "nice": false}, "axis": null},
  "color": {"field": "k", "type": "nominal", "scale": {"domain": ["main", "sat"], "range": ["#ff0000", "#00008f"]}, "legend": null}
 }}
],
"resolve": {"axis": {"x": "independent", "y": "independent"}}
},
{
"width": 260, "height": 385,
"title": {"text": "(b) A2", "anchor": "start", "frame": "group", "offset": 4, "fontSize": 20},
"layer": [
{"data": {"name": "b_pts"}, "mark": {"type": "point", "filled": false, "stroke": "#555555", "strokeWidth": 1.1, "size": 44, "opacity": 0.85, "clip": true},
 "encoding": {
  "x": {"field": "E", "type": "quantitative", "scale": {"domain": [0.681, 1.101], "nice": false, "zero": false}, "axis": {"orient": "bottom", "values": [0.7,0.75,0.8,0.85,0.9,0.95,1.0,1.05,1.1], "labelExpr": "abs(datum.value*10 - round(datum.value*10)) < 0.001 ? format(datum.value, '.1f') : ''", "tickSize": 3, "labelPadding": 5, "title": "Energy, E (eV)", "titlePadding": 2}},
  "y": {"field": "I", "type": "quantitative", "scale": {"domain": [0, 1638], "nice": false}, "axis": {"orient": "left", "values": [0,200,400,600,800,1000,1200,1400,1600], "labelExpr": "datum.value==0?'0':datum.value==400?'4 × 10⁺²':datum.value==800?'8 × 10⁺²':datum.value==1200?'1.2 × 10⁺³':datum.value==1600?'1.6 × 10⁺³':''", "labelAngle": -45, "labelAlign": "right", "labelBaseline": "middle", "tickSize": 4, "labelPadding": 3, "labelFontSize": 16, "title": null}}
 }},
{"data": {"name": "b_pk"}, "mark": {"type": "line", "color": "#808080", "strokeWidth": 1.8, "interpolate": "monotone", "clip": true},
 "encoding": {
  "x": {"field": "E", "type": "quantitative", "scale": {"domain": [0.681, 1.101], "nice": false, "zero": false}, "axis": {"orient": "top", "values": [0.7,0.8,0.9,1.0,1.1], "tickSize": 8, "labels": false, "title": null}},
  "y": {"field": "I", "type": "quantitative", "scale": {"domain": [0, 1638], "nice": false}, "axis": {"orient": "right", "values": [0,400,800,1200,1600], "tickSize": 8, "labels": false, "title": null}},
  "detail": {"field": "s"},
  "strokeDash": {"field": "t", "type": "nominal", "scale": {"domain": ["Total fit", "Individual peaks"], "range": [[1,0],[7,3.5]]}, "legend": {"orient": "none", "legendX": 327, "legendY": 498, "direction": "horizontal", "title": null, "symbolType": "stroke", "symbolSize": 900, "symbolStrokeColor": "black", "symbolStrokeWidth": 2.2, "labelFontSize": 19.8, "labelLimit": 400, "labelColor": "black", "labelOffset": 17, "columnPadding": 8}}
 }},
{"data": {"name": "b_tot"}, "mark": {"type": "line", "color": "black", "strokeWidth": 2.2, "interpolate": "monotone", "clip": true},
 "encoding": {
  "x": {"field": "E", "type": "quantitative", "scale": {"domain": [0.681, 1.101], "nice": false, "zero": false}, "axis": {"orient": "top", "values": [0.75,0.85,0.95,1.05], "tickSize": 4, "labels": false, "title": null, "domain": false}},
  "y": {"field": "I", "type": "quantitative", "scale": {"domain": [0, 1638], "nice": false}, "axis": {"orient": "right", "values": [200,600,1000,1400], "tickSize": 4, "labels": false, "title": null, "domain": false}},
  "strokeDash": {"field": "t", "type": "nominal", "scale": {"domain": ["Total fit", "Individual peaks"], "range": [[1,0],[7,3.5]]}, "legend": {"orient": "none", "legendX": 327, "legendY": 498, "direction": "horizontal", "title": null, "symbolType": "stroke", "symbolSize": 900, "symbolStrokeColor": "black", "symbolStrokeWidth": 2.2, "labelFontSize": 19.8, "labelLimit": 400, "labelColor": "black", "labelOffset": 17, "columnPadding": 8}}
 }},
{"data": {"name": "b_arr"}, "mark": {"type": "point", "shape": "M0,-2L0,0M-0.45,-0.75L0,0L0.45,-0.75", "size": 529, "filled": false, "strokeWidth": 1.8, "opacity": 1},
 "encoding": {
  "x": {"field": "E", "type": "quantitative", "scale": {"domain": [0.681, 1.101], "nice": false, "zero": false}, "axis": null},
  "y": {"field": "I", "type": "quantitative", "scale": {"domain": [0, 1638], "nice": false}, "axis": null},
  "color": {"field": "k", "type": "nominal", "scale": {"domain": ["main", "sat"], "range": ["#ff0000", "#00008f"]}, "legend": null}
 }}
],
"resolve": {"axis": {"x": "independent", "y": "independent"}}
},
{
"width": 260, "height": 385,
"title": {"text": "(c) B3", "anchor": "start", "frame": "group", "offset": 4, "fontSize": 20},
"layer": [
{"data": {"name": "c_pts"}, "mark": {"type": "point", "filled": false, "stroke": "#555555", "strokeWidth": 1.1, "size": 44, "opacity": 0.85, "clip": true},
 "encoding": {
  "x": {"field": "E", "type": "quantitative", "scale": {"domain": [0.6807, 1.0576], "nice": false, "zero": false}, "axis": {"orient": "bottom", "values": [0.7,0.75,0.8,0.85,0.9,0.95,1.0,1.05], "labelExpr": "abs(datum.value*10 - round(datum.value*10)) < 0.001 ? format(datum.value, '.1f') : ''", "tickSize": 3, "labelPadding": 5, "title": "Energy, E (eV)", "titlePadding": 2}},
  "y": {"field": "I", "type": "quantitative", "scale": {"domain": [0, 2240], "nice": false}, "axis": {"orient": "left", "values": [0,250,500,750,1000,1250,1500,1750,2000], "labelExpr": "datum.value==0?'0':datum.value==500?'5 × 10⁺²':datum.value==1000?'1 × 10⁺³':datum.value==1500?'1.5 × 10⁺³':datum.value==2000?'2 × 10⁺³':''", "labelAngle": -45, "labelAlign": "right", "labelBaseline": "middle", "tickSize": 4, "labelPadding": 3, "labelFontSize": 16, "title": null}}
 }},
{"data": {"name": "c_pk"}, "mark": {"type": "line", "color": "#808080", "strokeWidth": 1.8, "interpolate": "monotone", "clip": true},
 "encoding": {
  "x": {"field": "E", "type": "quantitative", "scale": {"domain": [0.6807, 1.0576], "nice": false, "zero": false}, "axis": {"orient": "top", "values": [0.7,0.8,0.9,1.0], "tickSize": 8, "labels": false, "title": null}},
  "y": {"field": "I", "type": "quantitative", "scale": {"domain": [0, 2240], "nice": false}, "axis": {"orient": "right", "values": [0,500,1000,1500,2000], "tickSize": 8, "labels": false, "title": null}},
  "detail": {"field": "s"},
  "strokeDash": {"field": "t", "type": "nominal", "scale": {"domain": ["Total fit", "Individual peaks"], "range": [[1,0],[7,3.5]]}, "legend": {"orient": "none", "legendX": 327, "legendY": 498, "direction": "horizontal", "title": null, "symbolType": "stroke", "symbolSize": 900, "symbolStrokeColor": "black", "symbolStrokeWidth": 2.2, "labelFontSize": 19.8, "labelLimit": 400, "labelColor": "black", "labelOffset": 17, "columnPadding": 8}}
 }},
{"data": {"name": "c_tot"}, "mark": {"type": "line", "color": "black", "strokeWidth": 2.2, "interpolate": "monotone", "clip": true},
 "encoding": {
  "x": {"field": "E", "type": "quantitative", "scale": {"domain": [0.6807, 1.0576], "nice": false, "zero": false}, "axis": {"orient": "top", "values": [0.75,0.85,0.95,1.05], "tickSize": 4, "labels": false, "title": null, "domain": false}},
  "y": {"field": "I", "type": "quantitative", "scale": {"domain": [0, 2240], "nice": false}, "axis": {"orient": "right", "values": [250,750,1250,1750], "tickSize": 4, "labels": false, "title": null, "domain": false}},
  "strokeDash": {"field": "t", "type": "nominal", "scale": {"domain": ["Total fit", "Individual peaks"], "range": [[1,0],[7,3.5]]}, "legend": {"orient": "none", "legendX": 327, "legendY": 498, "direction": "horizontal", "title": null, "symbolType": "stroke", "symbolSize": 900, "symbolStrokeColor": "black", "symbolStrokeWidth": 2.2, "labelFontSize": 19.8, "labelLimit": 400, "labelColor": "black", "labelOffset": 17, "columnPadding": 8}}
 }},
{"data": {"name": "c_arr"}, "mark": {"type": "point", "shape": "M0,-2L0,0M-0.45,-0.75L0,0L0.45,-0.75", "size": 529, "filled": false, "strokeWidth": 1.8, "opacity": 1},
 "encoding": {
  "x": {"field": "E", "type": "quantitative", "scale": {"domain": [0.6807, 1.0576], "nice": false, "zero": false}, "axis": null},
  "y": {"field": "I", "type": "quantitative", "scale": {"domain": [0, 2240], "nice": false}, "axis": null},
  "color": {"field": "k", "type": "nominal", "scale": {"domain": ["main", "sat"], "range": ["#ff0000", "#00008f"]}, "legend": null}
 }}
],
"resolve": {"axis": {"x": "independent", "y": "independent"}}
}
],
"config": {
 "font": "DejaVu Sans",
 "view": {"stroke": "black", "strokeWidth": 1.2},
 "axis": {"grid": false, "domainColor": "black", "domainWidth": 1.2, "tickColor": "black", "tickWidth": 1.3, "labelColor": "#666666", "labelFontSize": 17, "titleFontSize": 20.5, "titleFontWeight": "normal", "titleColor": "black"},
 "title": {"fontSize": 20.5, "fontWeight": "normal", "color": "black"},
 "legend": {"labelFontSize": 19.8, "labelLimit": 400}
}
}
